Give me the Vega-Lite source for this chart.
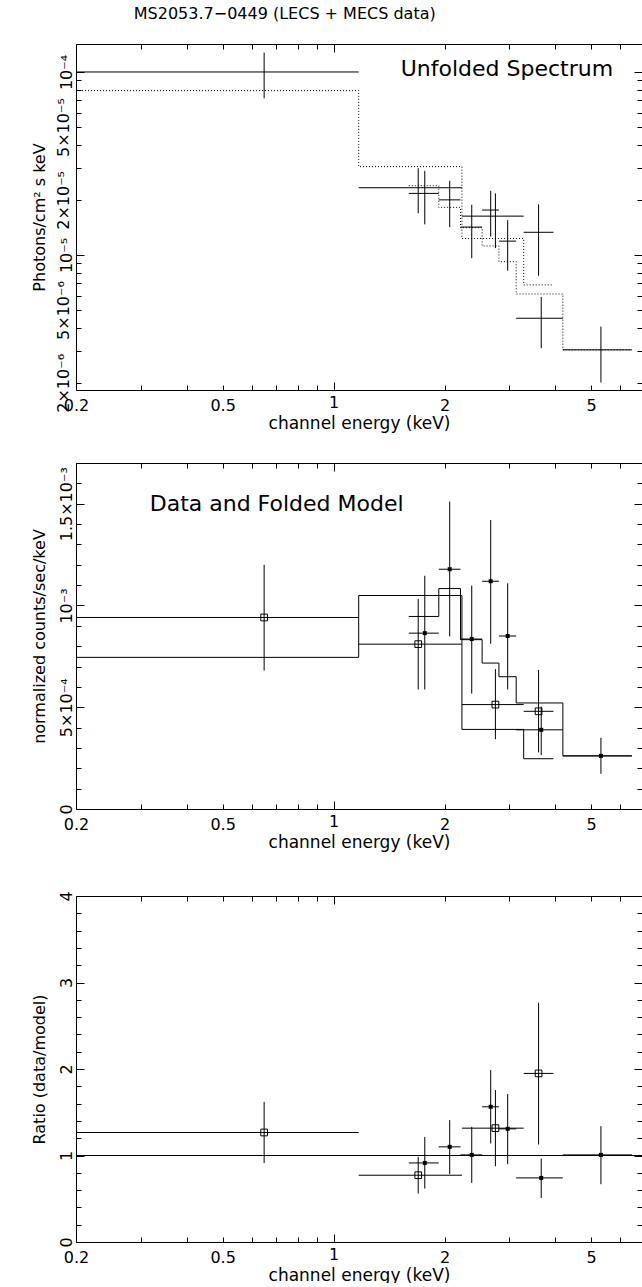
{
  "$schema": "https://vega.github.io/schema/vega-lite/v6.json",
  "padding": {"left": 30, "top": 5, "right": 1, "bottom": 0},
  "background": "white",
  "title": {"text": "MS2053.7−0449 (LECS + MECS data)", "font": "DejaVu Sans", "fontSize": 16, "fontWeight": "normal", "color": "#000", "anchor": "middle", "offset": 22, "dx": -52},
  "config": {
    "view": {"stroke": null},
    "axis": {"domainColor": "#000", "tickColor": "#000", "labelColor": "#000", "titleColor": "#000", "labelFont": "DejaVu Sans", "titleFont": "DejaVu Sans", "labelFontSize": 16, "titleFontSize": 16, "titleFontWeight": "normal", "grid": false, "domainWidth": 1, "tickWidth": 1},
    "axisX": {"titleFontSize": 17}
  },
  "datasets": {
    "unf": [
      {"inst": "LECS", "e": 0.648, "elo": 0.2, "ehi": 1.17, "f": 0.0001, "flo": 0.0000718, "fhi": 0.0001275},
      {"inst": "LECS", "e": 1.697, "elo": 1.17, "ehi": 2.23, "f": 0.0000233, "flo": 0.0000169, "fhi": 0.0000298},
      {"inst": "LECS", "e": 2.749, "elo": 2.23, "ehi": 3.28, "f": 0.0000163, "flo": 0.0000109, "fhi": 0.0000217},
      {"inst": "LECS", "e": 3.6, "elo": 3.28, "ehi": 3.95, "f": 0.0000133, "flo": 0.0000077, "fhi": 0.0000189},
      {"inst": "MECS", "e": 1.768, "elo": 1.6, "ehi": 1.93, "f": 0.0000217, "flo": 0.0000147, "fhi": 0.0000288},
      {"inst": "MECS", "e": 2.066, "elo": 1.93, "ehi": 2.21, "f": 0.00002, "flo": 0.0000142, "fhi": 0.0000254},
      {"inst": "MECS", "e": 2.371, "elo": 2.21, "ehi": 2.53, "f": 0.0000142, "flo": 0.0000096, "fhi": 0.0000188},
      {"inst": "MECS", "e": 2.669, "elo": 2.53, "ehi": 2.81, "f": 0.0000176, "flo": 0.0000126, "fhi": 0.0000224},
      {"inst": "MECS", "e": 2.968, "elo": 2.81, "ehi": 3.13, "f": 0.0000119, "flo": 0.0000082, "fhi": 0.0000155},
      {"inst": "MECS", "e": 3.66, "elo": 3.13, "ehi": 4.19, "f": 0.00000451, "flo": 0.00000309, "fhi": 0.0000059},
      {"inst": "MECS", "e": 5.315, "elo": 4.19, "ehi": 6.45, "f": 0.00000303, "flo": 0.00000201, "fhi": 0.00000406}
    ],
    "unfmod": [
      {"inst": "LECS", "e": 0.2, "f": 0.0000791},
      {"inst": "LECS", "e": 1.17, "f": 0.0000304},
      {"inst": "LECS", "e": 2.23, "f": 0.0000123},
      {"inst": "LECS", "e": 3.28, "f": 0.00000686},
      {"inst": "LECS", "e": 3.95, "f": 0.00000686},
      {"inst": "MECS", "e": 1.6, "f": 0.0000239},
      {"inst": "MECS", "e": 1.93, "f": 0.0000182},
      {"inst": "MECS", "e": 2.21, "f": 0.0000141},
      {"inst": "MECS", "e": 2.53, "f": 0.0000112},
      {"inst": "MECS", "e": 2.81, "f": 0.00000919},
      {"inst": "MECS", "e": 3.13, "f": 0.00000612},
      {"inst": "MECS", "e": 4.19, "f": 0.00000303},
      {"inst": "MECS", "e": 6.45, "f": 0.00000303}
    ],
    "cnt": [
      {"inst": "LECS", "e": 0.648, "elo": 0.2, "ehi": 1.17, "c": 0.000941, "clo": 0.00068, "chi": 0.0012},
      {"inst": "LECS", "e": 1.697, "elo": 1.17, "ehi": 2.23, "c": 0.00081, "clo": 0.000587, "chi": 0.001032},
      {"inst": "LECS", "e": 2.749, "elo": 2.23, "ehi": 3.28, "c": 0.000513, "clo": 0.000343, "chi": 0.000687},
      {"inst": "LECS", "e": 3.6, "elo": 3.28, "ehi": 3.95, "c": 0.00048, "clo": 0.000278, "chi": 0.000683},
      {"inst": "MECS", "e": 1.768, "elo": 1.6, "ehi": 1.93, "c": 0.000864, "clo": 0.000587, "chi": 0.001146},
      {"inst": "MECS", "e": 2.066, "elo": 1.93, "ehi": 2.21, "c": 0.001178, "clo": 0.000848, "chi": 0.00151},
      {"inst": "MECS", "e": 2.371, "elo": 2.21, "ehi": 2.53, "c": 0.000835, "clo": 0.000567, "chi": 0.001098},
      {"inst": "MECS", "e": 2.669, "elo": 2.53, "ehi": 2.81, "c": 0.001119, "clo": 0.000812, "chi": 0.00142},
      {"inst": "MECS", "e": 2.968, "elo": 2.81, "ehi": 3.13, "c": 0.00085, "clo": 0.000587, "chi": 0.001109},
      {"inst": "MECS", "e": 3.66, "elo": 3.13, "ehi": 4.19, "c": 0.000389, "clo": 0.000265, "chi": 0.000503},
      {"inst": "MECS", "e": 5.315, "elo": 4.19, "ehi": 6.45, "c": 0.000261, "clo": 0.000173, "chi": 0.00035}
    ],
    "cntmod": [
      {"inst": "LECS", "e": 0.2, "c": 0.000745},
      {"inst": "LECS", "e": 1.17, "c": 0.001049},
      {"inst": "LECS", "e": 2.23, "c": 0.000391},
      {"inst": "LECS", "e": 3.28, "c": 0.000247},
      {"inst": "LECS", "e": 3.95, "c": 0.000247},
      {"inst": "MECS", "e": 1.6, "c": 0.000946},
      {"inst": "MECS", "e": 1.93, "c": 0.001083},
      {"inst": "MECS", "e": 2.21, "c": 0.000832},
      {"inst": "MECS", "e": 2.53, "c": 0.000717},
      {"inst": "MECS", "e": 2.81, "c": 0.00065},
      {"inst": "MECS", "e": 3.13, "c": 0.000521},
      {"inst": "MECS", "e": 4.19, "c": 0.000261},
      {"inst": "MECS", "e": 6.45, "c": 0.000261}
    ],
    "ratio": [
      {"inst": "LECS", "e": 0.648, "elo": 0.2, "ehi": 1.17, "r": 1.266, "rlo": 0.914, "rhi": 1.62},
      {"inst": "LECS", "e": 1.697, "elo": 1.17, "ehi": 2.23, "r": 0.772, "rlo": 0.56, "rhi": 0.984},
      {"inst": "LECS", "e": 2.749, "elo": 2.23, "ehi": 3.28, "r": 1.316, "rlo": 0.876, "rhi": 1.756},
      {"inst": "LECS", "e": 3.6, "elo": 3.28, "ehi": 3.95, "r": 1.949, "rlo": 1.127, "rhi": 2.766},
      {"inst": "MECS", "e": 1.768, "elo": 1.6, "ehi": 1.93, "r": 0.914, "rlo": 0.618, "rhi": 1.215},
      {"inst": "MECS", "e": 2.066, "elo": 1.93, "ehi": 2.21, "r": 1.1, "rlo": 0.784, "rhi": 1.409},
      {"inst": "MECS", "e": 2.371, "elo": 2.21, "ehi": 2.53, "r": 1.007, "rlo": 0.683, "rhi": 1.331},
      {"inst": "MECS", "e": 2.669, "elo": 2.53, "ehi": 2.81, "r": 1.563, "rlo": 1.139, "rhi": 1.987},
      {"inst": "MECS", "e": 2.968, "elo": 2.81, "ehi": 3.13, "r": 1.308, "rlo": 0.899, "rhi": 1.709},
      {"inst": "MECS", "e": 3.66, "elo": 3.13, "ehi": 4.19, "r": 0.741, "rlo": 0.509, "rhi": 0.965},
      {"inst": "MECS", "e": 5.315, "elo": 4.19, "ehi": 6.45, "r": 1.007, "rlo": 0.668, "rhi": 1.339}
    ]
  },
  "spacing": 31,
  "vconcat": [
    {
      "width": 566, "height": 346,
      "resolve": {"axis": {"x": "independent", "y": "independent"}},
      "layer": [
        {"data": {"name": "unf"}, "mark": {"type": "rule", "color": "#000", "clip": true},
         "encoding": {
           "x": {"field": "elo", "type": "quantitative", "scale": {"type": "log", "domain": [0.2, 6.87], "nice": false},
                 "axis": {"title": "channel energy (keV)", "values": [0.2,0.3,0.4,0.5,0.6,0.7,0.8,0.9,1,2,3,4,5,6], "format": "~g", "labelExpr": "datum.value == 0.2 || datum.value == 0.5 || datum.value == 1 || datum.value == 2 || datum.value == 5 ? datum.label : ''", "labelFlush": false, "labelOverlap": false, "tickSize": {"condition": {"test": "datum.value == 1", "value": -8}, "value": -5}, "labelPadding": 12, "titlePadding": 2}},
           "x2": {"field": "ehi"},
           "y": {"field": "f", "type": "quantitative", "scale": {"type": "log", "domain": [0.000001828, 0.0001422], "nice": false},
                 "axis": {"title": "Photons/cm² s keV", "values": [0.000002,0.000003,0.000004,0.000005,0.000006,0.000007,0.000008,0.000009,0.00001,0.00002,0.00003,0.00004,0.00005,0.00006,0.00007,0.00008,0.00009,0.0001], "labelExpr": "datum.value == 0.0001 ? '10⁻⁴' : datum.value == 0.00005 ? '5×10⁻⁵' : datum.value == 0.00002 ? '2×10⁻⁵' : datum.value == 0.00001 ? '10⁻⁵' : datum.value == 0.000005 ? '5×10⁻⁶' : datum.value == 0.000002 ? '2×10⁻⁶' : ''", "labelAngle": -90, "labelAlign": "center", "labelBaseline": "bottom", "labelFlush": false, "labelOverlap": false, "tickSize": {"condition": {"test": "datum.value == 0.0001 || datum.value == 0.00001", "value": -8}, "value": -5}, "labelPadding": 10, "titlePadding": 8}}
         }},
        {"data": {"name": "unf"}, "mark": {"type": "rule", "color": "#000", "clip": true},
         "encoding": {
           "x": {"field": "e", "type": "quantitative", "scale": {"type": "log", "domain": [0.2, 6.87], "nice": false},
                 "axis": {"orient": "top", "title": null, "labels": false, "values": [0.2,0.3,0.4,0.5,0.6,0.7,0.8,0.9,1,2,3,4,5,6], "tickSize": {"condition": {"test": "datum.value == 1", "value": -8}, "value": -5}}},
           "y": {"field": "flo", "type": "quantitative", "scale": {"type": "log", "domain": [0.000001828, 0.0001422], "nice": false},
                 "axis": {"orient": "right", "title": null, "labels": false, "values": [0.000002,0.000003,0.000004,0.000005,0.000006,0.000007,0.000008,0.000009,0.00001,0.00002,0.00003,0.00004,0.00005,0.00006,0.00007,0.00008,0.00009,0.0001], "tickSize": {"condition": {"test": "datum.value == 0.0001 || datum.value == 0.00001", "value": -8}, "value": -5}}},
           "y2": {"field": "fhi"}
         }},
        {"data": {"name": "unfmod"}, "mark": {"type": "line", "interpolate": "step-after", "color": "#000", "strokeWidth": 1, "strokeDash": [1, 2], "clip": true},
         "encoding": {
           "x": {"field": "e", "type": "quantitative", "scale": {"type": "log", "domain": [0.2, 6.87], "nice": false}, "axis": null},
           "y": {"field": "f", "type": "quantitative", "scale": {"type": "log", "domain": [0.000001828, 0.0001422], "nice": false}, "axis": null},
           "detail": {"field": "inst"}
         }},
        {"data": {"values": [{}]}, "mark": {"type": "text", "font": "DejaVu Sans", "fontSize": 22, "align": "center", "baseline": "alphabetic", "color": "#000"},
         "encoding": {
           "x": {"datum": 2.953, "type": "quantitative", "scale": {"type": "log", "domain": [0.2, 6.87], "nice": false}, "axis": null},
           "y": {"datum": 0.0000951, "type": "quantitative", "scale": {"type": "log", "domain": [0.000001828, 0.0001422], "nice": false}, "axis": null},
           "text": {"value": "Unfolded Spectrum"}
         }}
      ]
    },
    {
      "spacing": 40,
      "vconcat": [
        {
          "width": 566, "height": 346,
          "resolve": {"axis": {"x": "independent", "y": "independent"}},
          "layer": [
            {"data": {"name": "cnt"}, "mark": {"type": "rule", "color": "#000", "clip": true},
             "encoding": {
               "x": {"field": "elo", "type": "quantitative", "scale": {"type": "log", "domain": [0.2, 6.87], "nice": false},
                     "axis": {"title": "channel energy (keV)", "values": [0.2,0.3,0.4,0.5,0.6,0.7,0.8,0.9,1,2,3,4,5,6], "format": "~g", "labelExpr": "datum.value == 0.2 || datum.value == 0.5 || datum.value == 1 || datum.value == 2 || datum.value == 5 ? datum.label : ''", "labelFlush": false, "labelOverlap": false, "tickSize": {"condition": {"test": "datum.value == 1", "value": -8}, "value": -5}, "labelPadding": 12, "titlePadding": 2}},
               "x2": {"field": "ehi"},
               "y": {"field": "c", "type": "quantitative", "scale": {"type": "linear", "domain": [0, 0.0017], "nice": false, "zero": false},
                     "axis": {"title": "normalized counts/sec/keV", "values": [0,0.0001,0.0002,0.0003,0.0004,0.0005,0.0006,0.0007,0.0008,0.0009,0.001,0.0011,0.0012,0.0013,0.0014,0.0015,0.0016], "labelExpr": "datum.value == 0 ? '0' : datum.value == 0.0005 ? '5×10⁻⁴' : datum.value == 0.001 ? '10⁻³' : datum.value == 0.0015 ? '1.5×10⁻³' : ''", "labelAngle": -90, "labelAlign": "center", "labelBaseline": "bottom", "labelFlush": false, "labelOverlap": false, "tickSize": {"condition": {"test": "datum.value == 0 || datum.value == 0.0005 || datum.value == 0.001 || datum.value == 0.0015", "value": -8}, "value": -5}, "labelPadding": 10, "titlePadding": 8}}
             }},
            {"data": {"name": "cnt"}, "mark": {"type": "rule", "color": "#000", "clip": true},
             "encoding": {
               "x": {"field": "e", "type": "quantitative", "scale": {"type": "log", "domain": [0.2, 6.87], "nice": false},
                     "axis": {"orient": "top", "title": null, "labels": false, "values": [0.2,0.3,0.4,0.5,0.6,0.7,0.8,0.9,1,2,3,4,5,6], "tickSize": {"condition": {"test": "datum.value == 1", "value": -8}, "value": -5}}},
               "y": {"field": "clo", "type": "quantitative", "scale": {"type": "linear", "domain": [0, 0.0017], "nice": false, "zero": false},
                     "axis": {"orient": "right", "title": null, "labels": false, "values": [0,0.0001,0.0002,0.0003,0.0004,0.0005,0.0006,0.0007,0.0008,0.0009,0.001,0.0011,0.0012,0.0013,0.0014,0.0015,0.0016], "tickSize": {"condition": {"test": "datum.value == 0 || datum.value == 0.0005 || datum.value == 0.001 || datum.value == 0.0015", "value": -8}, "value": -5}}},
               "y2": {"field": "chi"}
             }},
            {"data": {"name": "cntmod"}, "mark": {"type": "line", "interpolate": "step-after", "color": "#000", "strokeWidth": 1, "clip": true},
             "encoding": {
               "x": {"field": "e", "type": "quantitative", "scale": {"type": "log", "domain": [0.2, 6.87], "nice": false}, "axis": null},
               "y": {"field": "c", "type": "quantitative", "scale": {"type": "linear", "domain": [0, 0.0017], "nice": false, "zero": false}, "axis": null},
               "detail": {"field": "inst"}
             }},
            {"data": {"name": "cnt"}, "transform": [{"filter": "datum.inst == 'LECS'"}], "mark": {"type": "point", "shape": "square", "filled": false, "stroke": "#000", "strokeWidth": 1, "size": 45, "opacity": 1},
             "encoding": {
               "x": {"field": "e", "type": "quantitative", "scale": {"type": "log", "domain": [0.2, 6.87], "nice": false}, "axis": null},
               "y": {"field": "c", "type": "quantitative", "scale": {"type": "linear", "domain": [0, 0.0017], "nice": false, "zero": false}, "axis": null}
             }},
            {"data": {"name": "cnt"}, "transform": [{"filter": "datum.inst == 'MECS'"}], "mark": {"type": "point", "shape": "square", "filled": true, "color": "#000", "size": 16, "opacity": 1},
             "encoding": {
               "x": {"field": "e", "type": "quantitative", "scale": {"type": "log", "domain": [0.2, 6.87], "nice": false}, "axis": null},
               "y": {"field": "c", "type": "quantitative", "scale": {"type": "linear", "domain": [0, 0.0017], "nice": false, "zero": false}, "axis": null}
             }},
            {"data": {"values": [{}]}, "mark": {"type": "text", "font": "DejaVu Sans", "fontSize": 22, "align": "center", "baseline": "alphabetic", "color": "#000"},
             "encoding": {
               "x": {"datum": 0.7006, "type": "quantitative", "scale": {"type": "log", "domain": [0.2, 6.87], "nice": false}, "axis": null},
               "y": {"datum": 0.001466, "type": "quantitative", "scale": {"type": "linear", "domain": [0, 0.0017], "nice": false, "zero": false}, "axis": null},
               "text": {"value": "Data and Folded Model"}
             }}
          ]
        },
        {
          "width": 566, "height": 346,
          "resolve": {"axis": {"x": "independent", "y": "independent"}},
          "layer": [
            {"data": {"name": "ratio"}, "mark": {"type": "rule", "color": "#000", "clip": true},
             "encoding": {
               "x": {"field": "elo", "type": "quantitative", "scale": {"type": "log", "domain": [0.2, 6.87], "nice": false},
                     "axis": {"title": "channel energy (keV)", "values": [0.2,0.3,0.4,0.5,0.6,0.7,0.8,0.9,1,2,3,4,5,6], "format": "~g", "labelExpr": "datum.value == 0.2 || datum.value == 0.5 || datum.value == 1 || datum.value == 2 || datum.value == 5 ? datum.label : ''", "labelFlush": false, "labelOverlap": false, "tickSize": {"condition": {"test": "datum.value == 1", "value": -8}, "value": -5}, "labelPadding": 12, "titlePadding": 2}},
               "x2": {"field": "ehi"},
               "y": {"field": "r", "type": "quantitative", "scale": {"type": "linear", "domain": [0, 4], "nice": false},
                     "axis": {"title": "Ratio (data/model)", "values": [0,0.2,0.4,0.6,0.8,1,1.2,1.4,1.6,1.8,2,2.2,2.4,2.6,2.8,3,3.2,3.4,3.6,3.8,4], "format": "~g", "labelExpr": "datum.value % 1 == 0 ? datum.label : ''", "labelAngle": -90, "labelAlign": "center", "labelBaseline": "bottom", "labelFlush": false, "labelOverlap": false, "tickSize": {"condition": {"test": "datum.value % 1 == 0", "value": -8}, "value": -5}, "labelPadding": 10, "titlePadding": 8}}
             }},
            {"data": {"name": "ratio"}, "mark": {"type": "rule", "color": "#000", "clip": true},
             "encoding": {
               "x": {"field": "e", "type": "quantitative", "scale": {"type": "log", "domain": [0.2, 6.87], "nice": false},
                     "axis": {"orient": "top", "title": null, "labels": false, "values": [0.2,0.3,0.4,0.5,0.6,0.7,0.8,0.9,1,2,3,4,5,6], "tickSize": {"condition": {"test": "datum.value == 1", "value": -8}, "value": -5}}},
               "y": {"field": "rlo", "type": "quantitative", "scale": {"type": "linear", "domain": [0, 4], "nice": false},
                     "axis": {"orient": "right", "title": null, "labels": false, "values": [0,0.2,0.4,0.6,0.8,1,1.2,1.4,1.6,1.8,2,2.2,2.4,2.6,2.8,3,3.2,3.4,3.6,3.8,4], "tickSize": {"condition": {"test": "datum.value % 1 == 0", "value": -8}, "value": -5}}},
               "y2": {"field": "rhi"}
             }},
            {"data": {"values": [{}]}, "mark": {"type": "rule", "color": "#000"},
             "encoding": {
               "y": {"datum": 1, "type": "quantitative", "scale": {"type": "linear", "domain": [0, 4], "nice": false}, "axis": null}
             }},
            {"data": {"name": "ratio"}, "transform": [{"filter": "datum.inst == 'LECS'"}], "mark": {"type": "point", "shape": "square", "filled": false, "stroke": "#000", "strokeWidth": 1, "size": 45, "opacity": 1},
             "encoding": {
               "x": {"field": "e", "type": "quantitative", "scale": {"type": "log", "domain": [0.2, 6.87], "nice": false}, "axis": null},
               "y": {"field": "r", "type": "quantitative", "scale": {"type": "linear", "domain": [0, 4], "nice": false}, "axis": null}
             }},
            {"data": {"name": "ratio"}, "transform": [{"filter": "datum.inst == 'MECS'"}], "mark": {"type": "point", "shape": "square", "filled": true, "color": "#000", "size": 16, "opacity": 1},
             "encoding": {
               "x": {"field": "e", "type": "quantitative", "scale": {"type": "log", "domain": [0.2, 6.87], "nice": false}, "axis": null},
               "y": {"field": "r", "type": "quantitative", "scale": {"type": "linear", "domain": [0, 4], "nice": false}, "axis": null}
             }}
          ]
        }
      ]
    }
  ]
}
